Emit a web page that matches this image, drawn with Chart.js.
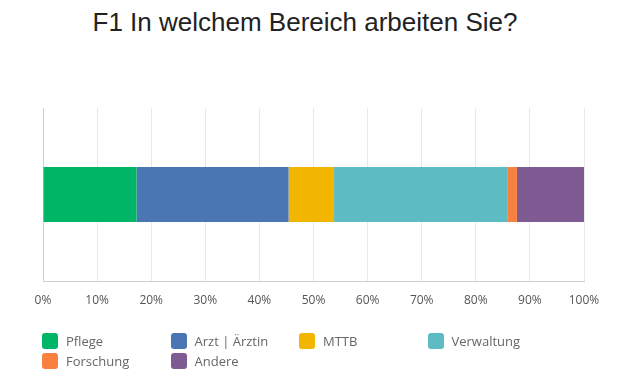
<!DOCTYPE html>
<html>
<head>
<meta charset="utf-8">
<script src="https://cdn.jsdelivr.net/npm/chart.js@4"></script>
<style>
  html, body { margin: 0; padding: 0; background: #fff; }
  #wrap { position: relative; width: 640px; height: 377px; overflow: hidden; }
  #title {
    position: absolute; left: 0; top: 9px; width: 610px; text-align: center;
    font: 26px/26px "Liberation Sans", Arial, sans-serif; color: #222;
  }
  #chart { position: absolute; left: 0; top: 0; }
  .lg { position: absolute; font: 13px/16px "Open Sans", sans-serif; color: #666; white-space: nowrap; }
  .lg i { position: absolute; left: 0; top: 0; width: 16px; height: 16px; border-radius: 3px; }
  .lg span { position: absolute; left: 24px; top: 0; }
</style>
</head>
<body>
<div id="wrap">
  <div id="title">F1 In welchem Bereich arbeiten Sie?</div>
  <canvas id="chart" width="640" height="377"></canvas>
  <div id="legend"></div>
</div>
<script>
const categories = ['Pflege', 'Arzt | Ärztin', 'MTTB', 'Verwaltung', 'Forschung', 'Andere'];
const shares     = [17.3, 28.1, 8.4, 32.0, 1.8, 12.4];
const colours    = ['#00b566', '#4a77b4', '#f2b600', '#5dbcc3', '#fa8040', '#7e5b92'];
const xTicks     = [0, 10, 20, 30, 40, 50, 60, 70, 80, 90, 100];

const datasets = categories.map((name, i) => ({
  label: name,
  data: [shares[i]],
  backgroundColor: colours[i],
  borderWidth: 0,
  categoryPercentage: 1,
  barPercentage: 0.318
}));

const chart = new Chart(document.getElementById('chart'), {
  type: 'bar',
  data: { labels: [''], datasets },
  options: {
    indexAxis: 'y',
    responsive: false,
    animation: false,
    layout: { padding: { left: 43, right: 56, top: 108, bottom: 66 } },
    plugins: { legend: { display: false }, tooltip: { enabled: false } },
    scales: {
      y: { stacked: true, display: false },
      x: {
        stacked: true, min: 0, max: 100,
        afterBuildTicks: s => { s.ticks = xTicks.map(v => ({ value: v })); },
        afterFit: s => { s.height = 30; },
        grid: {
          drawTicks: false,
          color: c => c.index === 0 ? '#cfcfcf' : '#e8e8e8'
        },
        border: { display: true, color: '#cfcfcf' },
        ticks: {
          padding: 12,
          color: '#555',
          font: { family: 'Open Sans', size: 12 },
          callback: v => v + '%'
        }
      }
    }
  }
});

/* ----- legend in a 4-column grid ----- */
const lg = document.getElementById('legend');
chart.data.datasets.forEach((ds, i) => {
  const el = document.createElement('div');
  el.className = 'lg';
  el.style.left = (42 + (i % 4) * 128.5) + 'px';
  el.style.top = (333 + Math.floor(i / 4) * 20) + 'px';
  el.innerHTML = `<i style="background:${ds.backgroundColor}"></i><span>${ds.label}</span>`;
  lg.appendChild(el);
});
</script>
</body>
</html>
